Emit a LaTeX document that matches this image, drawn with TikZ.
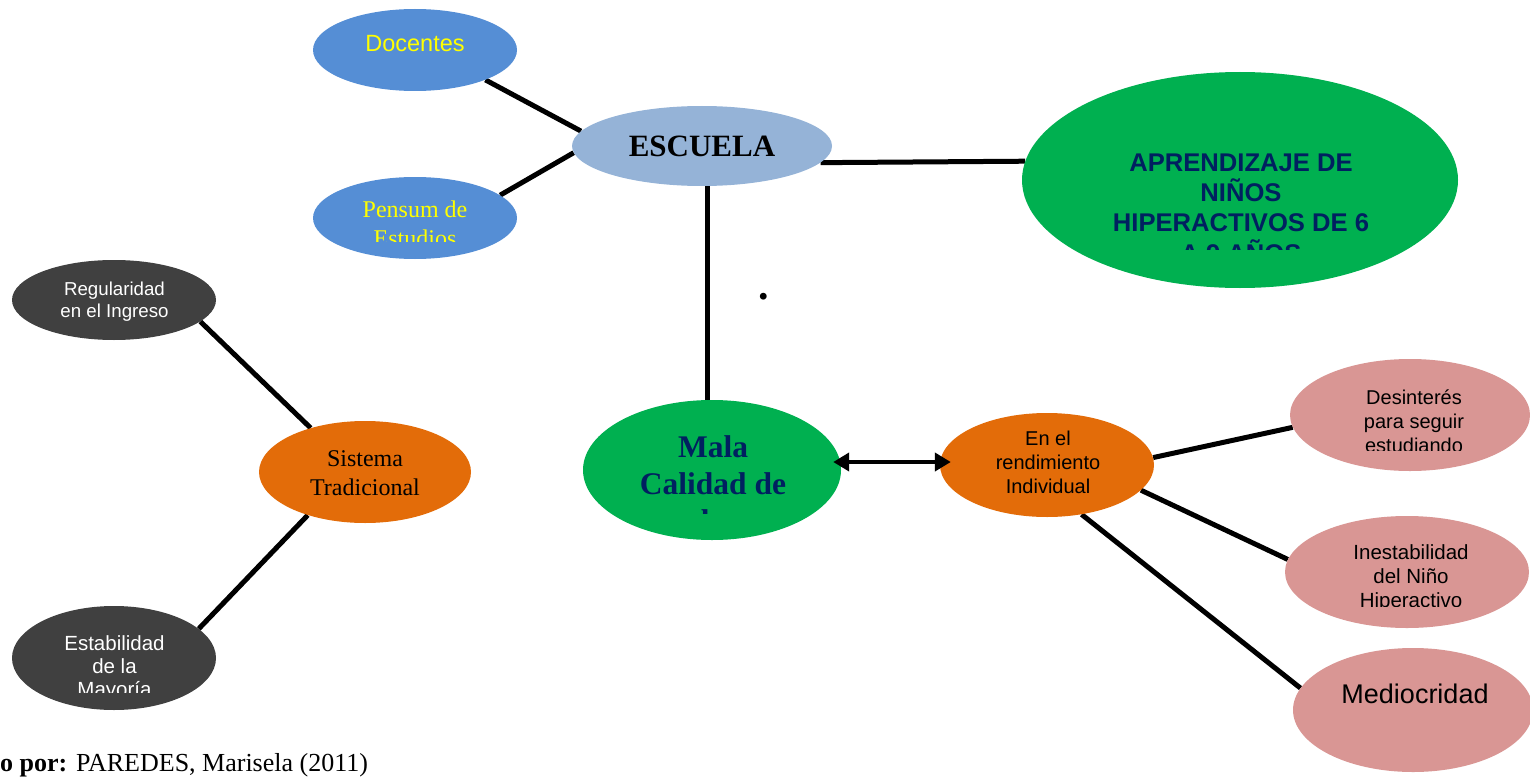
\documentclass[tikz,border=0pt]{standalone}
\usepackage{fontspec}
\setmainfont{Liberation Serif}
\newfontfamily\arial{Liberation Sans}
\usetikzlibrary{shapes.geometric,arrows.meta,calc}
\pgfdeclarelayer{bg}
\pgfsetlayers{bg,main}
\definecolor{blueA}{HTML}{558ED5}
\definecolor{blueB}{HTML}{95B3D7}
\definecolor{greenA}{HTML}{00B050}
\definecolor{navy}{HTML}{002060}
\definecolor{grayA}{HTML}{404040}
\definecolor{orangeA}{HTML}{E36C09}
\definecolor{pinkA}{HTML}{D99694}
\definecolor{yel}{HTML}{FFFF00}
\begin{document}
\begin{tikzpicture}[x=1pt,y=-1pt,
  bub/.style={ellipse,inner sep=0pt,draw=none},
  lbl/.style={inner sep=0pt,anchor=base,align=center},
  link/.style={line width=5pt,black},
  dblarrow/.style={line width=4.5pt,black,{Triangle[length=16pt,width=18pt]}-{Triangle[length=16pt,width=18pt]}}
]
\useasboundingbox (0,0) rectangle (1530,781);

% ellipses
\node[bub,fill=blueA,minimum width=204,minimum height=82] (doc) at (415,50) {};
\node[bub,fill=blueB,minimum width=260,minimum height=80] (esc) at (702,146) {};
\node[bub,fill=blueA,minimum width=204,minimum height=82] (pen) at (415,218) {};
\node[bub,fill=greenA,minimum width=436,minimum height=216] (apr) at (1240,180) {};
\node[bub,fill=grayA,minimum width=204,minimum height=80] (reg) at (114,300) {};
\node[bub,fill=orangeA,minimum width=212,minimum height=102] (sis) at (365,472) {};
\node[bub,fill=greenA,minimum width=258,minimum height=140] (mala) at (712,470) {};
\node[bub,fill=orangeA,minimum width=214,minimum height=104] (enel) at (1047,465) {};
\node[bub,fill=pinkA,minimum width=240,minimum height=112] (des) at (1410,415) {};
\node[bub,fill=pinkA,minimum width=244,minimum height=112] (ine) at (1407,572) {};
\node[bub,fill=pinkA,minimum width=240,minimum height=124] (med) at (1413,710) {};
\node[bub,fill=grayA,minimum width=204,minimum height=104] (est) at (114,658) {};

% connectors
\begin{pgfonlayer}{bg}
\draw[link] (doc.-23) -- (esc.173);
\draw[link] (pen.15) -- (esc.183);
\draw[link] (esc.-8) -- (apr.175);
\draw[link] ($(esc.south)+(5,0)$) -- ($(mala.north)+(-5,0)$);
\draw[link] (reg.-14) -- (sis.141);
\draw[link] (sis.217) -- (est.19);
\draw[link] (enel.4) -- (des.186);
\draw[link] (enel.-15) -- (ine.174);
\draw[link] (enel.-55) -- (med.169);
\end{pgfonlayer}
\draw[dblarrow] ($(mala.east)+(-8,-8)$) -- ($(enel.west)+(11,-3)$);

% labels (anchor=base is the baseline of the last line)
\node[lbl,font=\arial\fontsize{23.5}{28}\selectfont,text=yel] (docT) at (415,52) {Docentes};
\node[lbl,font=\bfseries\fontsize{31}{36}\selectfont,text=black] (escT) at (702,156) {ESCUELA};
\begin{scope}
\clip (0,0) rectangle (1530,241);
\node[lbl,font=\fontsize{24}{29}\selectfont,text=yel] (penT) at (415,246) {Pensum de\\Estudios};
\end{scope}
\begin{scope}
\clip (0,0) rectangle (1530,249);
\node[lbl,font=\arial\bfseries\fontsize{25.6}{30.3}\selectfont,text=navy] (aprT) at (1241,262) {APRENDIZAJE DE\\NIÑOS\\HIPERACTIVOS DE 6\\A 9 AÑOS};
\end{scope}
\node[lbl,font=\arial\fontsize{18.7}{22}\selectfont,text=white] (regT) at (114.5,317) {Regularidad\\en el Ingreso};
\node[lbl,font=\fontsize{24}{29}\selectfont,text=black] (sisT) at (365,495) {Sistema\\Tradicional};
\begin{scope}
\clip (0,0) rectangle (1530,513);
\node[lbl,font=\bfseries\fontsize{31.5}{37}\selectfont,text=navy] (malaT) at (713,531) {Mala\\Calidad de\\la};
\end{scope}
\node[lbl,font=\arial\fontsize{20}{24}\selectfont,text=black] (enelT) at (1048,493) {En el\\rendimiento\\Individual};
\begin{scope}
\clip (0,0) rectangle (1530,450);
\node[lbl,font=\arial\fontsize{20}{24}\selectfont,text=black] (desT) at (1414,452) {Desinterés\\para seguir\\estudiando};
\end{scope}
\begin{scope}
\clip (0,0) rectangle (1530,606);
\node[lbl,font=\arial\fontsize{20.5}{24}\selectfont,text=black] (ineT) at (1411,607) {Inestabilidad\\del Niño\\Hiperactivo};
\end{scope}
\node[lbl,font=\arial\fontsize{27}{32}\selectfont,text=black] (medT) at (1415,703) {Mediocridad};
\begin{scope}
\clip (0,0) rectangle (1530,692);
\node[lbl,font=\arial\fontsize{20.5}{23}\selectfont,text=white] (estT) at (114.5,696) {Estabilidad\\de la\\Mayoría};
\end{scope}
\node[lbl,font=\bfseries\fontsize{42}{48}\selectfont] (dotT) at (764,299) {.};

% caption
\node[inner sep=0pt,anchor=base west,font=\fontsize{26}{31}\selectfont] (cap) at (0,771) {\textbf{o por:} PAREDES, Marisela (2011)};
\end{tikzpicture}
\end{document}
